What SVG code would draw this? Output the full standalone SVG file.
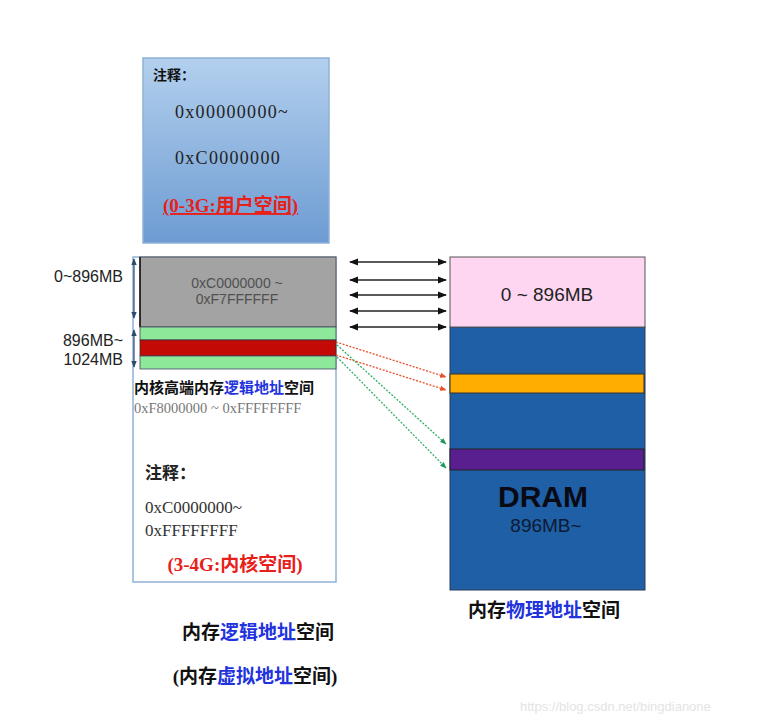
<svg xmlns="http://www.w3.org/2000/svg" width="763" height="721" viewBox="0 0 763 721">
<defs>
<linearGradient id="gTop" x1="0" y1="0" x2="0" y2="1">
<stop offset="0" stop-color="#b3d0ee"/>
<stop offset="1" stop-color="#6d9bd2"/>
</linearGradient>
<marker id="ah" viewBox="0 0 10 10" refX="9" refY="5" markerWidth="7" markerHeight="7" orient="auto-start-reverse">
<path d="M0,1 L10,5 L0,9 z" fill="#111"/>
</marker>
<marker id="ahO" viewBox="0 0 10 10" refX="9" refY="5" markerWidth="5" markerHeight="5" orient="auto">
<path d="M0,1 L10,5 L0,9 z" fill="#e8502a"/>
</marker>
<marker id="ahG" viewBox="0 0 10 10" refX="9" refY="5" markerWidth="5" markerHeight="5" orient="auto">
<path d="M0,1 L10,5 L0,9 z" fill="#1f9a55"/>
</marker>
<marker id="ahD" viewBox="0 0 10 10" refX="9" refY="5" markerWidth="6" markerHeight="6" orient="auto-start-reverse">
<path d="M0,1 L10,5 L0,9 z" fill="#2a4a70"/>
</marker>
</defs>
<style>
.cjk{font-family:"Liberation Serif","Noto Sans CJK SC",serif;}
.sans{font-family:"Liberation Sans","Noto Sans CJK SC",sans-serif;}
.b{font-weight:bold;}
.blue{fill:#2233dd;}
.red{fill:#e8201a;}
.conn{fill:none;stroke-width:1.3;}
</style>
<rect width="763" height="721" fill="#ffffff"/>

<g id="user-space">
<rect x="143" y="58" width="186" height="185" fill="url(#gTop)" stroke="#8fb2d9" stroke-width="1.5"/>
<text x="153" y="80" class="cjk b" font-size="14" fill="#111">注释：</text>
<text x="175" y="118" class="cjk" font-size="18" letter-spacing="1.3" fill="#222">0x00000000~</text>
<text x="175" y="164" class="cjk" font-size="18" letter-spacing="1.3" fill="#222">0xC0000000</text>
<text x="163" y="212" class="cjk b red" font-size="19" text-decoration="underline">(0-3G:用户空间)</text>
</g>

<g id="kernel-space">
<rect x="133" y="257" width="203" height="325" fill="#ffffff" stroke="#8fb2d9" stroke-width="1.5"/>
<rect x="140" y="257" width="196" height="70" fill="#a3a3a3" stroke="#555" stroke-width="1"/>
<line x1="140" y1="257" x2="140" y2="327" stroke="#111" stroke-width="1.5"/>
<text x="237" y="288" class="sans" font-size="14" fill="#505050" text-anchor="middle">0xC0000000 ~</text>
<text x="237" y="304" class="sans" font-size="14" fill="#505050" text-anchor="middle">0xF7FFFFFF</text>
<rect x="140" y="327" width="196" height="13" fill="#8ee89a" stroke="#446" stroke-width="0.8"/>
<rect x="140" y="340" width="196" height="16" fill="#c30a04" stroke="#333" stroke-width="0.8"/>
<rect x="140" y="356" width="196" height="13" fill="#8ee89a" stroke="#446" stroke-width="0.8"/>
<text x="134" y="393" class="cjk b" font-size="15" fill="#111">内核高端内存<tspan class="blue">逻辑地址</tspan>空间</text>
<text x="134" y="413" class="cjk" font-size="14.5" fill="#777">0xF8000000 ~ 0xFFFFFFFF</text>
<text x="145" y="479" class="cjk b" font-size="17" fill="#222">注释：</text>
<text x="145" y="513" class="cjk" font-size="17" fill="#333">0xC0000000~</text>
<text x="145" y="536" class="cjk" font-size="17" fill="#333">0xFFFFFFFF</text>
<text x="235" y="571" class="cjk b red" font-size="19" text-anchor="middle">(3-4G:内核空间)</text>
</g>

<g id="dimension-labels">
<line x1="134" y1="259" x2="134" y2="318" stroke="#2a4a70" stroke-width="1.2" marker-start="url(#ahD)" marker-end="url(#ahD)"/>
<line x1="134" y1="330" x2="134" y2="367" stroke="#2a4a70" stroke-width="1.2" marker-start="url(#ahD)" marker-end="url(#ahD)"/>
<text x="123" y="282" class="sans" font-size="16" fill="#222" text-anchor="end">0~896MB</text>
<text x="123" y="346" class="sans" font-size="16" fill="#222" text-anchor="end">896MB~</text>
<text x="123" y="365" class="sans" font-size="16" fill="#222" text-anchor="end">1024MB</text>
</g>

<g id="physical-memory">
<rect x="450" y="327" width="195" height="263" fill="#1f5fa6" stroke="#2a3a5a" stroke-width="1"/>
<rect x="450" y="257" width="195" height="70" fill="#ffd6f1" stroke="#555" stroke-width="1"/>
<text x="547" y="301" class="sans" font-size="19" fill="#222" text-anchor="middle">0 ~ 896MB</text>
<rect x="450" y="374" width="194" height="19" fill="#ffae00" stroke="#333" stroke-width="1"/>
<rect x="450" y="449" width="194" height="21" fill="#5a1f8e" stroke="#222" stroke-width="1"/>
<text x="543" y="507" class="sans b" font-size="30" fill="#0a0a14" text-anchor="middle">DRAM</text>
<text x="546" y="532" class="sans" font-size="19" fill="#0d1a33" text-anchor="middle">896MB~</text>
</g>

<g id="connectors">
<line class="conn" x1="350" y1="262" x2="446" y2="262" stroke="#222" marker-start="url(#ah)" marker-end="url(#ah)"/>
<line class="conn" x1="350" y1="280" x2="446" y2="280" stroke="#222" marker-start="url(#ah)" marker-end="url(#ah)"/>
<line class="conn" x1="350" y1="295" x2="446" y2="295" stroke="#222" marker-start="url(#ah)" marker-end="url(#ah)"/>
<line class="conn" x1="350" y1="311" x2="446" y2="311" stroke="#222" marker-start="url(#ah)" marker-end="url(#ah)"/>
<line class="conn" x1="350" y1="327" x2="446" y2="327" stroke="#222" marker-start="url(#ah)" marker-end="url(#ah)"/>
<line class="conn" x1="336" y1="342" x2="446" y2="377" stroke="#e8502a" stroke-dasharray="2,1.5" marker-end="url(#ahO)"/>
<line class="conn" x1="336" y1="355" x2="446" y2="390" stroke="#e8502a" stroke-dasharray="2,1.5" marker-end="url(#ahO)"/>
<line class="conn" x1="337" y1="345" x2="446" y2="444" stroke="#2fae66" stroke-dasharray="2,1.5" marker-end="url(#ahG)"/>
<line class="conn" x1="337" y1="357" x2="446" y2="468" stroke="#2fae66" stroke-dasharray="2,1.5" marker-end="url(#ahG)"/>
</g>

<g id="captions">
<text x="258" y="639" class="cjk b" font-size="19" fill="#111" text-anchor="middle">内存<tspan class="blue">逻辑地址</tspan>空间</text>
<text x="255" y="683" class="cjk b" font-size="19" fill="#111" text-anchor="middle">(内存<tspan class="blue">虚拟地址</tspan>空间)</text>
<text x="544" y="617" class="cjk b" font-size="19" fill="#111" text-anchor="middle">内存<tspan class="blue">物理地址</tspan>空间</text>
</g>

<g id="watermark">
<text x="520" y="711" class="sans" font-size="13" fill="#e4e4e4">https://blog.csdn.net/bingdianone</text>
</g>
</svg>
